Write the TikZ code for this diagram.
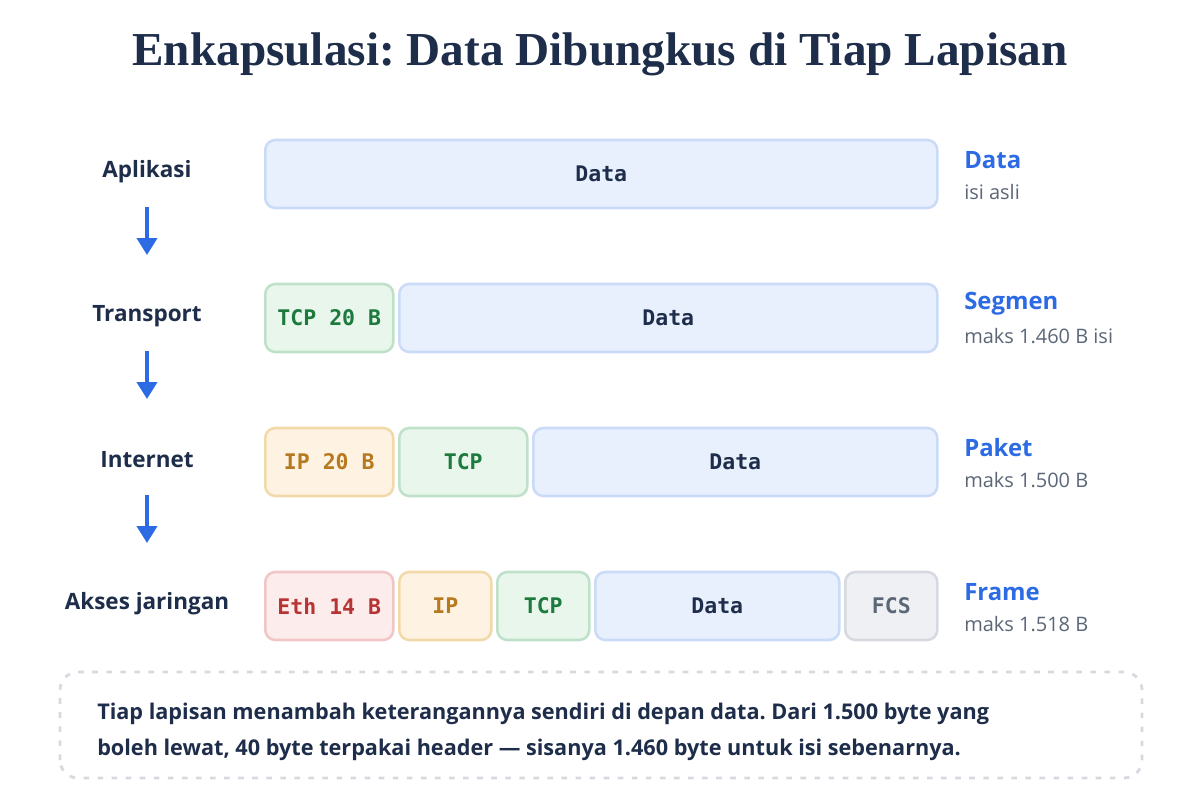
\documentclass[tikz,border=0pt]{standalone}
\usepackage{fontspec}
\setmainfont{Open Sans}
\newfontfamily\judulfont{Liberation Serif}
\newfontfamily\kodefont{DejaVu Sans Mono}
\usetikzlibrary{arrows.meta}
\frenchspacing
\definecolor{tinta}{HTML}{1E2D4A}
\definecolor{biru}{HTML}{2D6BE4}
\definecolor{abu}{HTML}{5B6677}
\definecolor{dataisi}{HTML}{E8F0FD}
\definecolor{datagaris}{HTML}{CADBF8}
\definecolor{tcpisi}{HTML}{E8F6EC}
\definecolor{tcpgaris}{HTML}{BFE1C9}
\definecolor{tcpteks}{HTML}{1B7A3C}
\definecolor{ipisi}{HTML}{FEF3E3}
\definecolor{ipgaris}{HTML}{F2D9A9}
\definecolor{ipteks}{HTML}{B7791F}
\definecolor{ethisi}{HTML}{FDECEC}
\definecolor{ethgaris}{HTML}{F0C6C6}
\definecolor{ethteks}{HTML}{B83434}
\definecolor{fcsisi}{HTML}{EEF0F3}
\definecolor{fcsgaris}{HTML}{D6DAE0}
\definecolor{putus}{HTML}{D6DAE0}

\begin{document}
\begin{tikzpicture}[
    blok/.style={draw, rounded corners=0.25cm, line width=1.8pt, minimum height=1.7cm,
      anchor=west, font=\kodefont\bfseries\fontsize{15.3}{18}\selectfont},
    datablok/.style={blok, fill=dataisi, draw=datagaris, text=tinta},
    tcpblok/.style={blok, fill=tcpisi, draw=tcpgaris, text=tcpteks},
    ipblok/.style={blok, fill=ipisi, draw=ipgaris, text=ipteks},
    ethblok/.style={blok, fill=ethisi, draw=ethgaris, text=ethteks},
    fcsblok/.style={blok, fill=fcsisi, draw=fcsgaris, text=abu},
    lapisan/.style={font=\bfseries\fontsize{16}{19}\selectfont, text=tinta},
    nama/.style={anchor=west, inner sep=0, font=\bfseries\fontsize{17}{20}\selectfont, text=biru},
    ket/.style={anchor=west, inner sep=0, font=\fontsize{14.2}{17}\selectfont, text=abu},
    turun/.style={-{Triangle[width=0.5cm,length=0.42cm]}, biru, line width=2.3pt,
      shorten <=0.875cm, shorten >=1.525cm}
  ]
    \useasboundingbox (0,0) rectangle (30,20);
    % Title
    \node[font=\judulfont\bfseries\fontsize{33.6}{38}\selectfont, text=tinta] (judul) at (15,18.65)
      {Enkapsulasi: Data Dibungkus di Tiap Lapisan};
    % Layer names
    \node[lapisan] (aplikasi) at (3.675,15.7) {Aplikasi};
    \node[lapisan] (transport) at (3.675,12.1) {Transport};
    \node[lapisan] (internet) at (3.675,8.5) {Internet};
    \node[lapisan] (akses) at (3.675,4.9) {Akses jaringan};
    % First row
    \node[datablok, minimum width=16.8cm] (data1) at (6.6,15.65) {Data};
    % Second row
    \node[tcpblok, minimum width=3.2cm] (tcp2) at (6.6,12.05) {TCP 20 B};
    \node[datablok, minimum width=13.45cm] (data2) at (9.95,12.05) {Data};
    % Third row
    \node[ipblok, minimum width=3.2cm] (ip3) at (6.6,8.45) {IP 20 B};
    \node[tcpblok, minimum width=3.2cm] (tcp3) at (9.95,8.45) {TCP};
    \node[datablok, minimum width=10.1cm] (data3) at (13.3,8.45) {Data};
    % Fourth row
    \node[ethblok, minimum width=3.2cm] (eth4) at (6.6,4.85) {Eth 14 B};
    \node[ipblok, minimum width=2.3cm] (ip4) at (9.95,4.85) {IP};
    \node[tcpblok, minimum width=2.3cm] (tcp4) at (12.4,4.85) {TCP};
    \node[datablok, minimum width=6.1cm] (data4) at (14.85,4.85) {Data};
    \node[fcsblok, minimum width=2.3cm] (fcs4) at (21.1,4.85) {FCS};
    % Unit names
    \node[nama] (nData) at (24.1,16.0) {Data};
    \node[ket] (kData) at (24.1,15.2) {isi asli};
    \node[nama] (nSegmen) at (24.1,12.4) {Segmen};
    \node[ket] (kSegmen) at (24.1,11.6) {maks 1.460 B isi};
    \node[nama] (nPaket) at (24.1,8.8) {Paket};
    \node[ket] (kPaket) at (24.1,8.0) {maks 1.500 B};
    \node[nama] (nFrame) at (24.1,5.2) {Frame};
    \node[ket] (kFrame) at (24.1,4.4) {maks 1.518 B};
    % Draw arrows
    \draw[turun] (aplikasi.center) -- (transport.center);
    \draw[turun] (transport.center) -- (internet.center);
    \draw[turun] (internet.center) -- (akses.center);
    % Note
    \draw[putus, line width=2pt, dash pattern=on 4pt off 6pt, rounded corners=0.45cm]
      (1.5,0.55) rectangle (28.55,3.2);
    \node[anchor=west, inner sep=0, align=left, text=tinta,
      font=\bfseries\fontsize{15.4}{25.6}\selectfont] (catatan) at (2.425,1.7)
      {Tiap lapisan menambah keterangannya sendiri di depan data. Dari 1.500 byte yang\\
       boleh lewat, 40 byte terpakai header --- sisanya 1.460 byte untuk isi sebenarnya.};
\end{tikzpicture}
\end{document}
